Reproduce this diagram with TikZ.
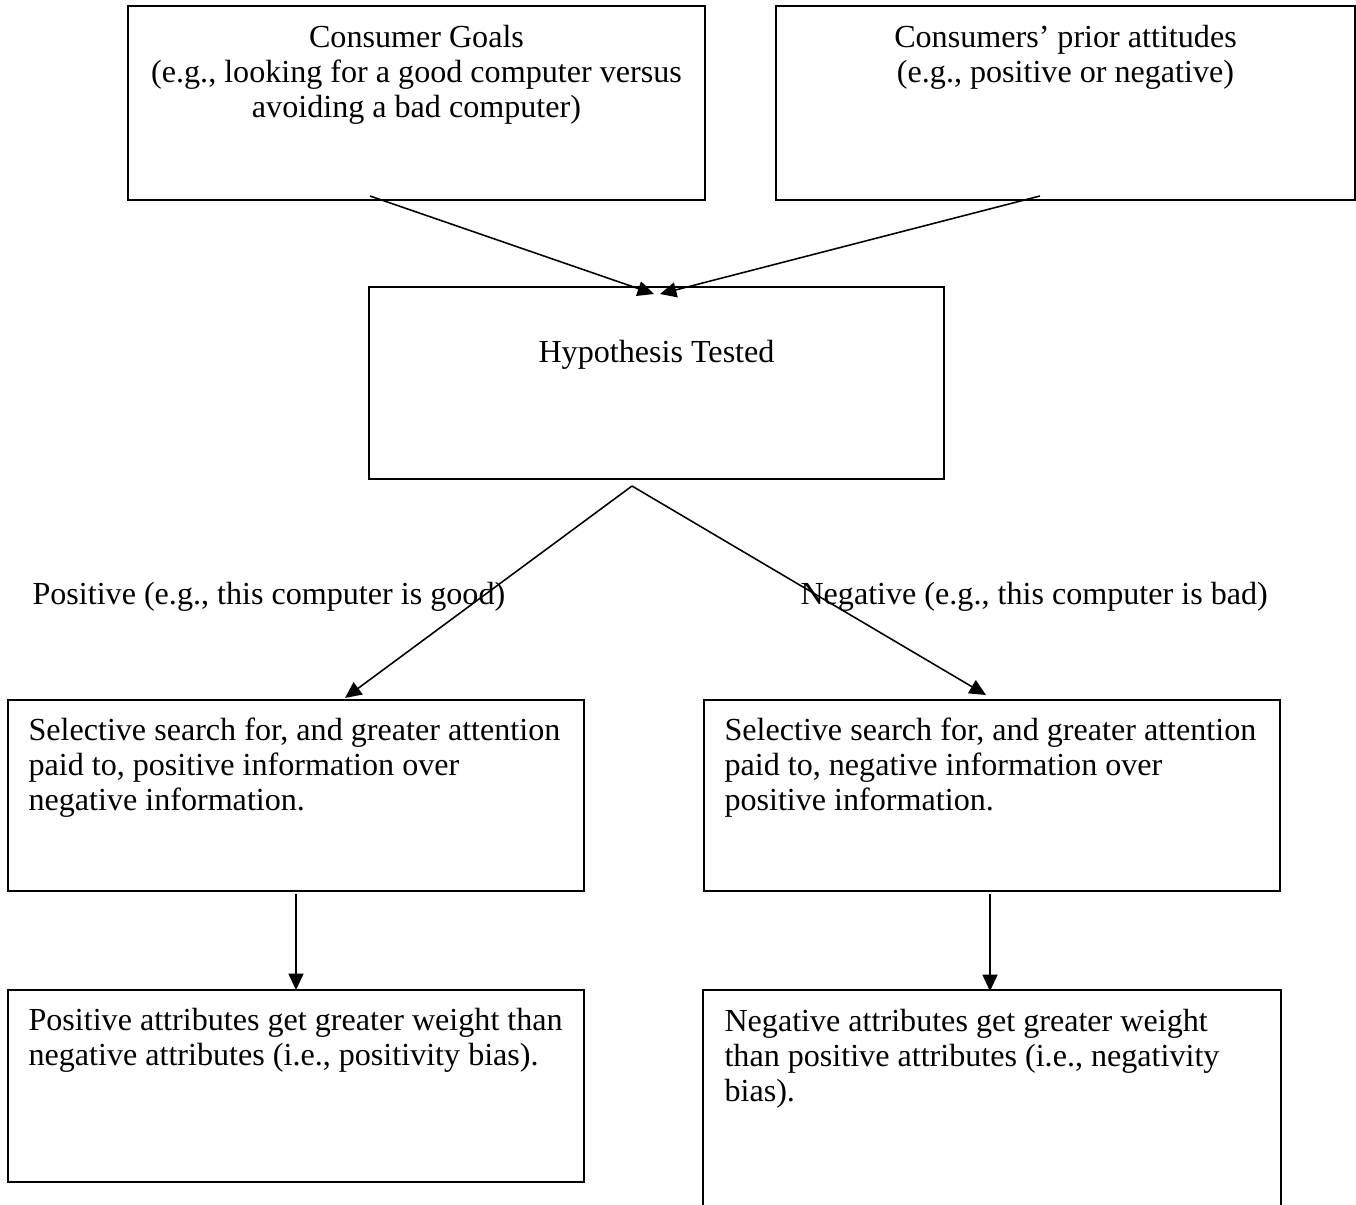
\documentclass[tikz,border=0pt]{standalone}
\usepackage{fontspec}
\setmainfont{Liberation Serif}
\usetikzlibrary{arrows.meta,fit}
\begin{document}
\begin{tikzpicture}[x=0.3846pt,y=-0.3846pt,
  boxline/.style={line width=0.77pt},
  box/.style={boxline,draw,inner sep=0pt},
  txt/.style={inner sep=0pt,font=\fontsize{12.35pt}{13.5pt}\selectfont},
  arr/.style={line width=0.6pt,-{Triangle[length=6.3pt,width=5.8pt]}},
  plain/.style={line width=0.6pt}]
\useasboundingbox[fill=white] (0,0) rectangle (1356,1205);

% boxes
\node[box,fit={(128,6) (705,200)}] (A) {};
\node[box,fit={(776,6) (1355,200)}] (B) {};
\node[box,fit={(369,287) (944,479)}] (C) {};
\node[box,fit={(8,700) (584,891)}] (D) {};
\node[box,fit={(704,700) (1280,891)}] (E) {};
\node[box,fit={(8,990) (584,1182)}] (F) {};
\node[inner sep=0pt,fit={(704,991) (1280,1215)}] (G) {};
\draw[boxline] (G.south west) -- (G.north west) -- (G.north east) -- (G.south east);

% texts
\node[txt,anchor=base] (A1) at (416.5,47) {Consumer Goals};
\node[txt,anchor=base] (A2) at (416.5,82) {(e.g., looking for a good computer versus};
\node[txt,anchor=base] (A3) at (416.5,117) {avoiding a bad computer)};
\node[txt,anchor=base] (B1) at (1065.5,47) {Consumers’ prior attitudes};
\node[txt,anchor=base] (B2) at (1065.5,82) {(e.g., positive or negative)};
\node[txt,anchor=base] (C1) at (656.5,362) {Hypothesis Tested};
\node[txt,anchor=base west] (P) at (32,604) {Positive (e.g., this computer is good)};
\node[txt,anchor=base west] (N) at (800,604) {Negative (e.g., this computer is bad)};
\node[txt,anchor=base west] (D1) at (28,740) {Selective search for, and greater attention};
\node[txt,anchor=base west] (D2) at (28,775) {paid to, positive information over};
\node[txt,anchor=base west] (D3) at (28,810) {negative information.};
\node[txt,anchor=base west] (E1) at (724,740) {Selective search for, and greater attention};
\node[txt,anchor=base west] (E2) at (724,775) {paid to, negative information over};
\node[txt,anchor=base west] (E3) at (724,810) {positive information.};
\node[txt,anchor=base west] (F1) at (28,1030) {Positive attributes get greater weight than};
\node[txt,anchor=base west] (F2) at (28,1065) {negative attributes (i.e., positivity bias).};
\node[txt,anchor=base west] (G1) at (724,1031) {Negative attributes get greater weight};
\node[txt,anchor=base west] (G2) at (724,1066) {than positive attributes (i.e., negativity};
\node[txt,anchor=base west] (G3) at (724,1101) {bias).};

% connectors
\coordinate (a1) at (370,196);
\coordinate (a1t) at (654,294);
\coordinate (b1) at (1040,196);
\coordinate (b1t) at (660,294);
\draw[arr] (a1) -- (a1t);
\draw[arr] (b1) -- (b1t);

\coordinate (apex) at (632,486);
\coordinate (dt) at (345,698);
\coordinate (et) at (986,695);
\draw[arr] (apex) -- (dt);
\draw[arr] (apex) -- (et);

\coordinate (d0) at (296,894);
\coordinate (f0) at (296,990);
\coordinate (e0) at (990,894);
\coordinate (g0) at (990,991);
\draw[arr] (d0) -- (f0);
\draw[arr] (e0) -- (g0);
\end{tikzpicture}
\end{document}
